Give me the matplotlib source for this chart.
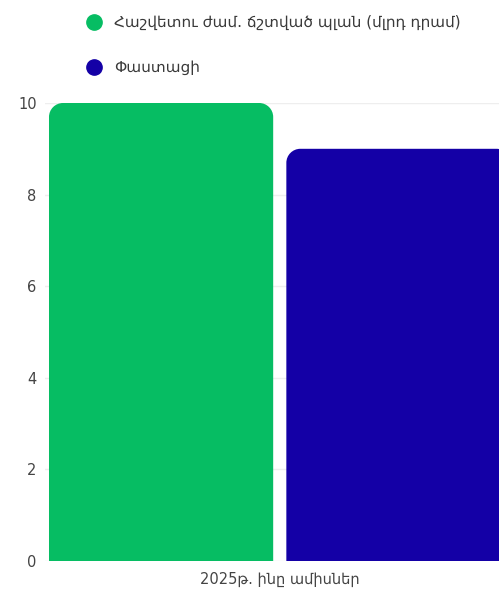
import matplotlib
matplotlib.use("Agg")
import matplotlib.pyplot as plt
from matplotlib.path import Path
from matplotlib.patches import PathPatch
from matplotlib.lines import Line2D

categories = ["2025թ. ինը ամիսներ"]
series_names = ["Հաշվետու ժամ. ճշտված պլան (մլրդ դրամ)", "Փաստացի"]
series_values = [[10.0], [9.0]]
colors = ["#06BD63", "#1400A6"]
yticks = [0, 2, 4, 6, 8, 10]

plt.rcParams['font.family'] = ['DejaVu Sans']

W, H, DPI = 499, 591, 100
fig = plt.figure(figsize=(W / DPI, H / DPI), dpi=DPI)
ax = fig.add_axes([45 / W, 30 / H, 470 / W, 458 / H])
ax.set_xlim(-0.5, 0.5)
ax.set_ylim(0, 10)

offsets = [-0.253, 0.252]
width = 0.477
bars_all = []
for i, (name, vals) in enumerate(zip(series_names, series_values)):
    xs = [k + offsets[i] for k in range(len(categories))]
    bars = ax.bar(xs, vals, width=width, color=colors[i], label=name, zorder=2)
    bars_all.append(bars)

# Replace with rounded-top bars
r_px = 14
px_per_x = 470 / 1.0
px_per_y = 458 / 10.0
rx = r_px / px_per_x
ry = r_px / px_per_y
k = 0.5523
for bars in bars_all:
    for b in bars:
        x0 = b.get_x(); x1 = x0 + b.get_width(); h = b.get_height()
        verts = [
            (x0, 0), (x0, h - ry),
            (x0, h - ry + k * ry), (x0 + rx - k * rx, h), (x0 + rx, h),
            (x1 - rx, h),
            (x1 - rx + k * rx, h), (x1, h - ry + k * ry), (x1, h - ry),
            (x1, 0), (x0, 0)
        ]
        codes = [Path.MOVETO, Path.LINETO,
                 Path.CURVE4, Path.CURVE4, Path.CURVE4,
                 Path.LINETO,
                 Path.CURVE4, Path.CURVE4, Path.CURVE4,
                 Path.LINETO, Path.CLOSEPOLY]
        patch = PathPatch(Path(verts, codes), facecolor=b.get_facecolor(),
                          edgecolor='none', zorder=2)
        b.set_visible(False)
        ax.add_patch(patch)

ax.set_yticks(yticks)
ax.set_yticklabels([str(t) for t in yticks])
ax.set_xticks(range(len(categories)))
ax.set_xticklabels(categories)
ax.tick_params(axis='both', length=0, labelsize=10.5, colors='#444444')
ax.tick_params(axis='y', pad=6)
ax.tick_params(axis='x', pad=8)
for s in ax.spines.values():
    s.set_visible(False)
ax.grid(axis='y', color='#EEEEEE', linewidth=1, zorder=0)
ax.set_axisbelow(True)

handles = [Line2D([], [], marker='o', linestyle='none', markersize=11,
                  markerfacecolor=c, markeredgecolor=c) for c in colors]
fig.legend(handles, series_names, loc='upper left',
           bbox_to_anchor=(73 / W, 1 - 9 / H), frameon=False,
           fontsize=11, labelspacing=1.95, handletextpad=0.3,
           labelcolor='#3a3a3a', borderaxespad=0)

fig.savefig("out.png", dpi=DPI)
